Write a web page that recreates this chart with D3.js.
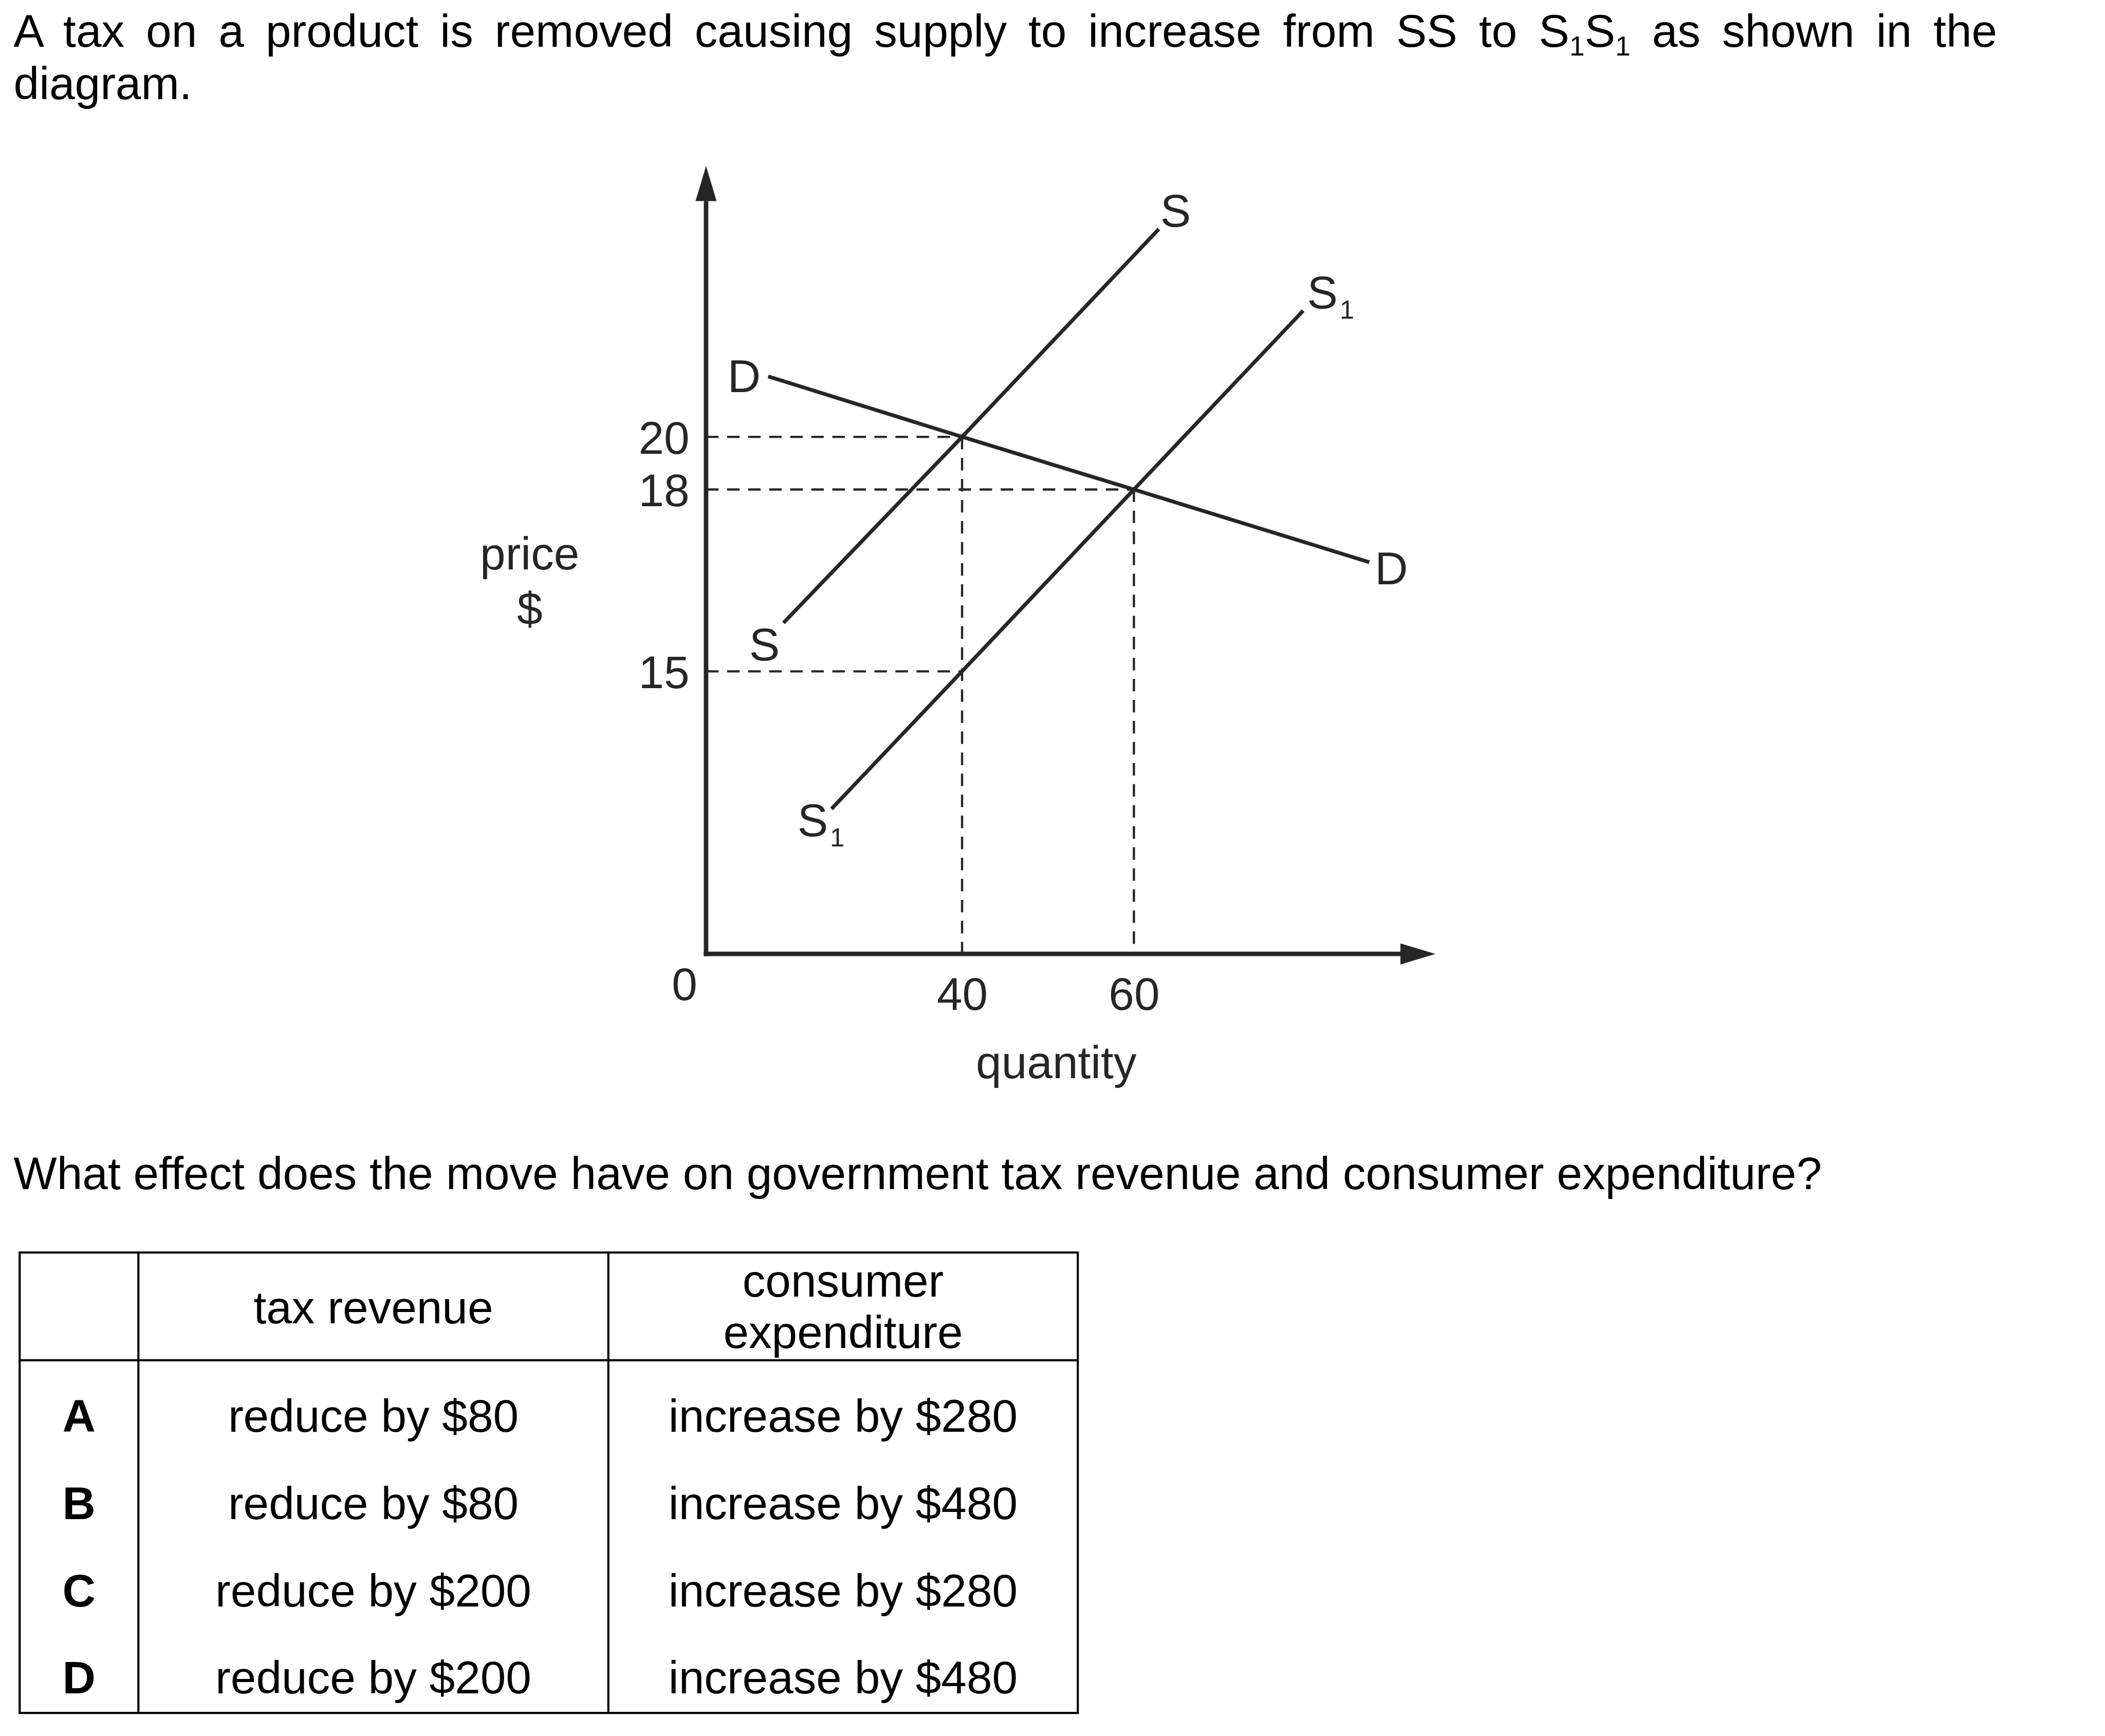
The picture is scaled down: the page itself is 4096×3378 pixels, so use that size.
<!DOCTYPE html>
<html>
<head>
<meta charset="utf-8">
<script src="https://cdn.jsdelivr.net/npm/d3@7"></script>
<style>
  html, body { margin: 0; padding: 0; background: #fff; }
  svg { display: block; }
  text { font-family: "Liberation Sans", Arial, sans-serif; }
</style>
</head>
<body>
<script>
// ---------------- DATA ----------------
// Axis knots (diagram is not drawn to scale, so scales are piecewise linear)
const quantityTicks = [40, 60];
const priceTicks = [15, 18, 20];
const quantityKnots = [0, 40, 60];
const priceKnots = [0, 15, 18, 20];
const quantityAxisMax = 95.1;
const priceAxisMax = 30.3;

// Curves [quantity, price]
const curveS  = [[12.1, 15.8], [40, 20], [62.9, 27.9]];
const curveS1 = [[19.6, 7.7], [40, 15], [60, 18], [79.7, 24.8]];
const curveD  = [[9.7, 22.3], [40, 20], [60, 18], [87.4, 16.8]];

// Guide (dashed) lines: equilibrium / tax points [quantity, price]
const guidePoints = [[40, 20], [60, 18], [40, 15]];
const guideVerticals = [[40, 20], [60, 18]];

// Text content
const titleLine1 = ["A tax on a product is removed causing supply to increase from SS to S", "1", "S", "1", " as shown in the"];
const titleLine2 = "diagram.";
const question = "What effect does the move have on government tax revenue and consumer expenditure?";
const optionLetters = ["A", "B", "C", "D"];
const taxRevenue = ["reduce by $80", "reduce by $80", "reduce by $200", "reduce by $200"];
const consumerExpenditure = ["increase by $280", "increase by $480", "increase by $280", "increase by $480"];
const headerTax = ["tax revenue"];
const headerConsumer = ["consumer", "expenditure"];

// ---------------- DRAW ----------------
const W = 4201, H = 3465;
const svg = d3.select("body").append("svg")
  .attr("width", 4096).attr("height", 3378)
  .attr("viewBox", `0 0 ${W} ${H}`);

const FS = 91.5;
const ink = "#262626";

const x = d3.scaleLinear().domain(quantityKnots).range([1409, 1920, 2263]);
const y = d3.scaleLinear().domain(priceKnots).range([1904, 1340, 977, 872]);

// Title
const t1 = svg.append("text").attr("x", 27).attr("y", 93).attr("font-size", FS).attr("fill", "#000");
t1.append("tspan").text(titleLine1[0]);
t1.append("tspan").attr("font-size", FS * 0.6).attr("dy", 18).text(titleLine1[1]);
t1.append("tspan").attr("dy", -18).text(titleLine1[2]);
t1.append("tspan").attr("font-size", FS * 0.6).attr("dy", 18).text(titleLine1[3]);
t1.append("tspan").attr("dy", -18).text(titleLine1[4]);
{
  const natural = t1.node().getComputedTextLength();
  const nSpaces = titleLine1.join("").split(" ").length - 1;
  const target = 3986 - 27;
  t1.attr("word-spacing", (target - natural) / nSpaces);
}
svg.append("text").attr("x", 27).attr("y", 198).attr("font-size", FS).attr("fill", "#000").text(titleLine2);

// Chart
const g = svg.append("g");

// dashed guides
const dash = "25,17";
guidePoints.forEach(p => {
  g.append("line")
    .attr("x1", x(0)).attr("y1", y(p[1]))
    .attr("x2", x(p[0])).attr("y2", y(p[1]))
    .attr("stroke", ink).attr("stroke-width", 4.5).attr("stroke-dasharray", dash);
});
guideVerticals.forEach(p => {
  g.append("line")
    .attr("x1", x(p[0])).attr("y1", y(p[1]))
    .attr("x2", x(p[0])).attr("y2", y(0))
    .attr("stroke", ink).attr("stroke-width", 4.5).attr("stroke-dasharray", dash);
});

// curves
const line = d3.line().x(d => x(d[0])).y(d => y(d[1]));
[curveS, curveS1, curveD].forEach(c => {
  g.append("path").attr("d", line(c)).attr("fill", "none")
    .attr("stroke", ink).attr("stroke-width", 7.5);
});

// axes with arrows
const arrowLen = 70, arrowHalf = 21;
const xTip = x(quantityAxisMax), yTip = y(priceAxisMax);
g.append("line").attr("x1", x(0)).attr("y1", y(0) + 4.5).attr("x2", x(0)).attr("y2", yTip + arrowLen)
  .attr("stroke", ink).attr("stroke-width", 9);
g.append("line").attr("x1", x(0) - 4.5).attr("y1", y(0)).attr("x2", xTip - arrowLen).attr("y2", y(0))
  .attr("stroke", ink).attr("stroke-width", 9);
g.append("path").attr("fill", ink)
  .attr("d", `M${x(0)},${yTip} L${x(0) - arrowHalf},${yTip + arrowLen} L${x(0) + arrowHalf},${yTip + arrowLen} Z`);
g.append("path").attr("fill", ink)
  .attr("d", `M${xTip},${y(0)} L${xTip - arrowLen},${y(0) - arrowHalf} L${xTip - arrowLen},${y(0) + arrowHalf} Z`);

// tick labels via d3 axes
const yAxis = g.append("g").attr("transform", `translate(${x(0)},0)`)
  .call(d3.axisLeft(y).tickValues(priceTicks).tickSize(0).tickPadding(33).tickFormat(d3.format("d")));
const xAxis = g.append("g").attr("transform", `translate(0,${y(0)})`)
  .call(d3.axisBottom(x).tickValues(quantityTicks).tickSize(0).tickPadding(46).tickFormat(d3.format("d")));
[yAxis, xAxis].forEach(a => {
  a.select(".domain").remove();
  a.selectAll("text").attr("font-size", FS).attr("fill", ink)
    .attr("font-family", "'Liberation Sans', Arial, sans-serif");
});
yAxis.selectAll("text").attr("dy", "0.358em");
xAxis.selectAll("text").attr("dy", "0.716em");

// origin label
g.append("text").attr("x", x(0) - 43).attr("y", y(0) + 92).attr("text-anchor", "middle")
  .attr("font-size", FS).attr("fill", ink).text("0");

// axis titles
g.append("text").attr("x", 1057).attr("y", 1137).attr("text-anchor", "middle")
  .attr("font-size", FS).attr("fill", ink).text("price");
g.append("text").attr("x", 1057).attr("y", 1246).attr("text-anchor", "middle")
  .attr("font-size", FS).attr("fill", ink).text("$");
g.append("text").attr("x", 2108).attr("y", 2152).attr("text-anchor", "middle")
  .attr("font-size", FS).attr("fill", ink).text("quantity");

// curve labels
function curveLabel(c, atEnd, dx, dyy, main, sub) {
  const p = atEnd ? c[c.length - 1] : c[0];
  const t = g.append("text").attr("x", x(p[0]) + dx).attr("y", y(p[1]) + dyy)
    .attr("text-anchor", "middle").attr("font-size", FS).attr("fill", ink);
  t.append("tspan").text(main);
  if (sub) {
    t.attr("text-anchor", "start").attr("x", x(p[0]) + dx - 31);
    t.append("tspan").attr("font-size", 52).attr("dx", 4).attr("dy", 21).text(sub);
  }
}
curveLabel(curveD, false, -48, 31.5, "D");
curveLabel(curveD, true, 44, 44, "D");
curveLabel(curveS, true, 33.5, -5, "S");
curveLabel(curveS, false, -38, 75, "S");
curveLabel(curveS1, true, 39, -5, "S", "1");
curveLabel(curveS1, false, -37, 54, "S", "1");

// Question
svg.append("text").attr("x", 27).attr("y", 2374).attr("font-size", FS).attr("fill", "#000").text(question);

// Table
const colX = [39, 276, 1214, 2151];
const tTop = 2500, tHead = 2715, tBot = 3419;
const tb = svg.append("g");
const lw = 4.3;
tb.append("rect").attr("x", colX[0]).attr("y", tTop).attr("width", colX[3] - colX[0]).attr("height", tBot - tTop)
  .attr("fill", "none").attr("stroke", "#000").attr("stroke-width", lw);
[colX[1], colX[2]].forEach(cx => tb.append("line").attr("x1", cx).attr("x2", cx).attr("y1", tTop).attr("y2", tBot)
  .attr("stroke", "#000").attr("stroke-width", lw));
tb.append("line").attr("x1", colX[0]).attr("x2", colX[3]).attr("y1", tHead).attr("y2", tHead)
  .attr("stroke", "#000").attr("stroke-width", lw);

const colCenter = i => (colX[i] + colX[i + 1]) / 2;
tb.append("text").attr("x", colCenter(1)).attr("y", 2641).attr("text-anchor", "middle")
  .attr("font-size", FS).text(headerTax[0]);
headerConsumer.forEach((s, i) => tb.append("text").attr("x", colCenter(2)).attr("y", 2588 + i * 103)
  .attr("text-anchor", "middle").attr("font-size", FS).text(s));

const rowY = d3.scaleLinear().domain([0, optionLetters.length - 1]).range([2858, 3380]);
optionLetters.forEach((l, i) => {
  tb.append("text").attr("x", colCenter(0)).attr("y", rowY(i)).attr("text-anchor", "middle")
    .attr("font-size", FS).attr("font-weight", "bold").text(l);
  tb.append("text").attr("x", colCenter(1)).attr("y", rowY(i)).attr("text-anchor", "middle")
    .attr("font-size", FS).text(taxRevenue[i]);
  tb.append("text").attr("x", colCenter(2)).attr("y", rowY(i)).attr("text-anchor", "middle")
    .attr("font-size", FS).text(consumerExpenditure[i]);
});
</script>
</body>
</html>
